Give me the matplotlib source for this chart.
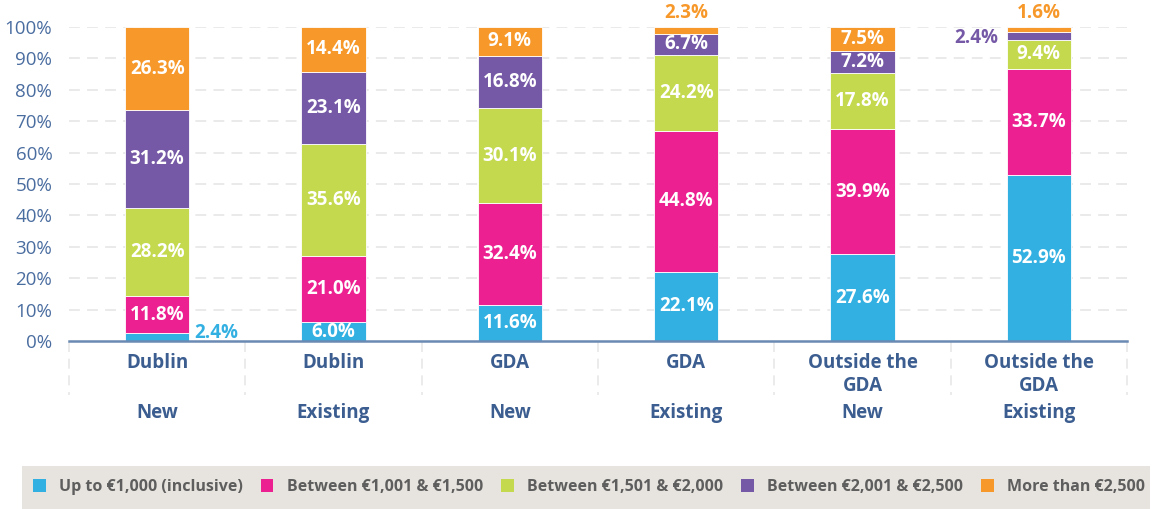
import matplotlib
matplotlib.use("Agg")
import matplotlib.pyplot as plt
from matplotlib.patches import Rectangle
from matplotlib.transforms import blended_transform_factory
import numpy as np

plt.rcParams['font.family'] = ['Open Sans', 'DejaVu Sans']

regions = ["Dublin", "Dublin", "GDA", "GDA", "Outside the\nGDA", "Outside the\nGDA"]
stock = ["New", "Existing", "New", "Existing", "New", "Existing"]

series_names = ["Up to €1,000 (inclusive)", "Between €1,001 & €1,500",
                "Between €1,501 & €2,000", "Between €2,001 & €2,500",
                "More than €2,500"]
up_to_1000 = [2.4, 6.0, 11.6, 22.1, 27.6, 52.9]
b1001_1500 = [11.8, 21.0, 32.4, 44.8, 39.9, 33.7]
b1501_2000 = [28.2, 35.6, 30.1, 24.2, 17.8, 9.4]
b2001_2500 = [31.2, 23.1, 16.8, 6.7, 7.2, 2.4]
over_2500 = [26.3, 14.4, 9.1, 2.3, 7.5, 1.6]
yticks = [0, 10, 20, 30, 40, 50, 60, 70, 80, 90, 100]

series = [up_to_1000, b1001_1500, b1501_2000, b2001_2500, over_2500]
colors = ["#33b0e2", "#ec2090", "#c4d94d", "#7559a6", "#f7982a"]

# small segments get their label outside the bar: (series, bar) -> placement
outside = {(0, 0): "right", (4, 3): "top", (4, 5): "top", (3, 5): "left"}

fig = plt.figure(figsize=(11.6, 5.09), dpi=100)
ax = fig.add_axes([69 / 1160, 1 - 341 / 509, (1127 - 69) / 1160, (341 - 27) / 509])

x = np.arange(len(regions))
width = 0.365
lab_size = 13.5
bottom = np.zeros(len(regions))
for si, (vals, col) in enumerate(zip(series, colors)):
    vals = np.array(vals)
    ax.bar(x, vals, width, bottom=bottom, color=col, edgecolor="white",
           linewidth=0.6, zorder=3)
    for i, v in enumerate(vals):
        place = outside.get((si, i))
        mid = bottom[i] + v / 2
        lab = f"{v:.1f}%"
        if place is None:
            ax.text(x[i], mid, lab, ha="center", va="center", color="white",
                    fontsize=lab_size, fontweight="bold", zorder=4)
        elif place == "right":
            ax.text(x[i] + width / 2 + 0.03, mid + 1.2, lab, ha="left", va="center",
                    color=col, fontsize=lab_size, fontweight="bold")
        elif place == "left":
            ax.text(x[i] - width / 2 - 0.05, bottom[i] + 0.5, lab, ha="right",
                    va="center", color=col, fontsize=lab_size, fontweight="bold")
        else:
            ax.text(x[i], bottom[i] + v + 1.2, lab, ha="center", va="bottom",
                    color=col, fontsize=lab_size, fontweight="bold")
    bottom += vals

ax.set_xlim(-0.5, len(regions) - 0.5)
ax.set_ylim(0, 100)
ax.set_yticks(yticks)
ax.set_yticklabels([f"{t}%" for t in yticks], fontsize=13.5, color="#4a6da0")
ax.tick_params(axis="y", length=0, pad=12)
ax.set_xticks([])
for t in yticks[1:]:
    ax.axhline(t, color="#e8e8e8", linewidth=1.3, dashes=(6, 4), zorder=1)
for s in ["top", "right", "left"]:
    ax.spines[s].set_visible(False)
ax.spines["bottom"].set_color("#6a89b3")
ax.spines["bottom"].set_linewidth(1.8)
ax.spines["bottom"].set_zorder(5)

# category separators and two-level labels below the axis
trans = blended_transform_factory(ax.transData, fig.transFigure)
for b in np.arange(-0.5, len(regions), 1.0):
    ax.plot([b, b], [1 - 342 / 509, 1 - 395 / 509], transform=trans,
            color="#e8e8e8", linewidth=1.2, dashes=(6, 4), clip_on=False)
for i in range(len(regions)):
    ax.text(x[i], 1 - 353 / 509, regions[i], transform=trans, ha="center",
            va="top", fontsize=13.5, fontweight="bold", color="#3b5d90",
            linespacing=1.2)
    ax.text(x[i], 1 - 413 / 509, stock[i], transform=trans, ha="center",
            va="center", fontsize=13.5, fontweight="bold", color="#3b5d90")

# legend band
fig.patches.append(Rectangle((22 / 1160, 0), (1150 - 22) / 1160, 43 / 509,
                             transform=fig.transFigure, facecolor="#e7e3de",
                             edgecolor="none", zorder=0))
handles = [Rectangle((0, 0), 1, 1, facecolor=c) for c in colors]
leg = fig.legend(handles, series_names, ncol=5, loc="center",
                 bbox_to_anchor=(589 / 1160, 1 - 487 / 509), frameon=False,
                 handlelength=0.8, handleheight=0.8, handletextpad=0.85,
                 columnspacing=1.1, prop={"size": 11.5, "weight": "bold"})
for t in leg.get_texts():
    t.set_color("#5e5e5e")

fig.savefig("out.png", dpi=100)
